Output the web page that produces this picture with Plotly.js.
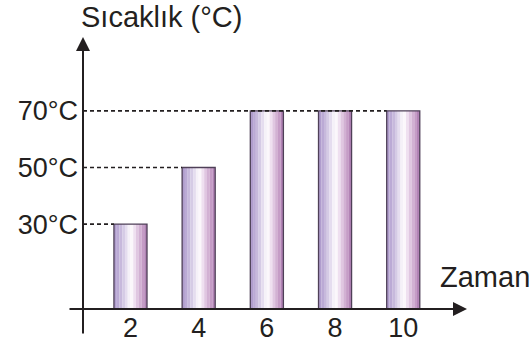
<!DOCTYPE html>
<html>
<head>
<meta charset="utf-8">
<script src="https://cdn.plot.ly/plotly-3.0.1.min.js"></script>
<style>
  html, body { margin: 0; padding: 0; background: #ffffff; }
  #chart { width: 532px; height: 348px; }
</style>
</head>
<body>
<div id="chart"></div>
<script>
// ---- data ----
const times = [2, 4, 6, 8, 10];            // Zaman
const temps = [30, 50, 70, 70, 70];        // Sıcaklık (°C)
const tempTicks = [30, 50, 70];
const tempTickLabels = ["30°C", "50°C", "70°C"];
const xTitle = "Zaman";
const yTitle = "Sıcaklık (°C)";

// ---- styling ----
const ink = "#231f20";
const fam = "Liberation Sans";
const stripColors = [
  "#b09dcd", "#bbaad5", "#c7b9dc", "#d5cbe5", "#e5ddef", "#f5f1f8",
  "#fbf7fb", "#efe0f0", "#e0c7e1", "#d2b1d3", "#c59cc6", "#b283b5"
];
const barWidth = 0.97;
const xRange = [0.608, 11.87];
const yRange = [0, 96.1];

const traces = [];
const n = stripColors.length;
const sw = barWidth / n;
stripColors.forEach((c, i) => {
  traces.push({
    type: "bar",
    x: times,
    y: temps,
    width: sw * 1.02,
    offset: -barWidth / 2 + i * sw,
    marker: { color: c, line: { width: 0 } },
    hoverinfo: "skip",
    showlegend: false
  });
});
// outline
traces.push({
  type: "bar",
  x: times,
  y: temps,
  width: barWidth,
  offset: -barWidth / 2,
  marker: { color: "rgba(0,0,0,0)", line: { color: "#4f4058", width: 1.3 } },
  showlegend: false
});

// dashed guide lines from the y axis to the left edge of the last bar with that value
const shapes = tempTicks.map(v => {
  let last = -1;
  temps.forEach((t, i) => { if (t === v) last = i; });
  return {
    type: "line", xref: "x", yref: "y", layer: "above",
    x0: xRange[0], x1: times[last] - barWidth / 2, y0: v, y1: v,
    line: { color: ink, width: 1.6, dash: "4px,3px" }
  };
});

const annotations = [
  // y axis with arrow
  { xref: "paper", yref: "paper", x: 0, y: 1, ax: 0, ay: 298, axref: "pixel", ayref: "pixel",
    text: "", showarrow: true, arrowhead: 2, arrowsize: 1.4, arrowwidth: 2, arrowcolor: ink, standoff: 0 },
  // x axis with arrow
  { xref: "paper", yref: "paper", x: 1, y: 0, ax: -399, ay: 0, axref: "pixel", ayref: "pixel",
    text: "", showarrow: true, arrowhead: 2, arrowsize: 1.4, arrowwidth: 2, arrowcolor: ink, standoff: 0 },
  { xref: "paper", yref: "paper", x: -0.0104, y: 1.075, xanchor: "left", yanchor: "middle",
    text: yTitle, showarrow: false, font: { family: fam, size: 29, color: ink } },
  { xref: "paper", yref: "paper", x: 0.9245, y: 0.1176, xanchor: "left", yanchor: "middle",
    text: xTitle, showarrow: false, font: { family: fam, size: 29, color: ink } }
];

const layout = {
  width: 532, height: 348,
  margin: { l: 83, r: 65, t: 37, b: 39, pad: 0 },
  paper_bgcolor: "#ffffff", plot_bgcolor: "#ffffff",
  barmode: "overlay",
  showlegend: false,
  font: { family: fam, color: ink },
  xaxis: {
    range: xRange, tickvals: times, ticktext: times.map(String),
    showgrid: false, zeroline: false, showline: false, ticks: "",
    tickfont: { family: fam, size: 27, color: ink }, fixedrange: true
  },
  yaxis: {
    range: yRange, tickvals: tempTicks, ticktext: tempTickLabels,
    showgrid: false, zeroline: false, showline: false, ticks: "",
    ticklabelstandoff: 4,
    tickfont: { family: fam, size: 27, color: ink }, fixedrange: true
  },
  shapes: shapes,
  annotations: annotations
};

Plotly.newPlot("chart", traces, layout, { displayModeBar: false, staticPlot: true });
</script>
</body>
</html>
